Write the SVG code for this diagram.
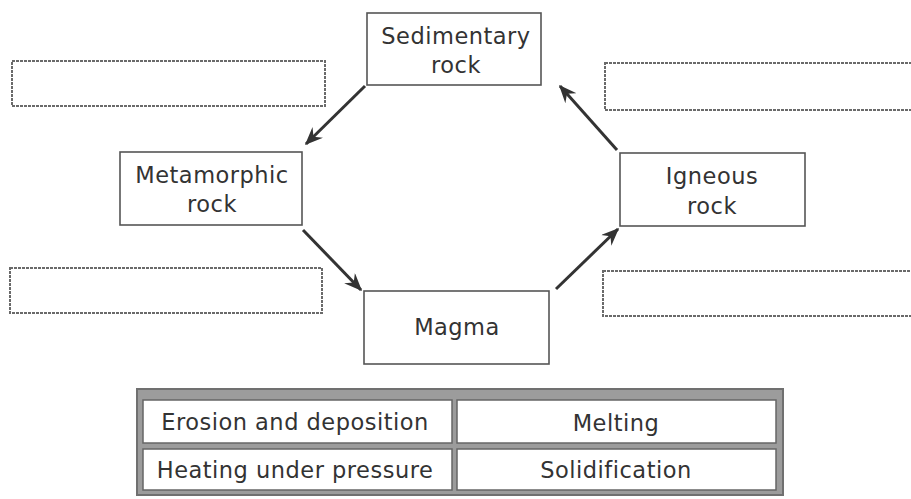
<svg xmlns="http://www.w3.org/2000/svg" width="911" height="499" viewBox="0 0 911 499">
<defs>
<style>
.node{fill:#fff;stroke:#555;stroke-width:1.6}
.blank{fill:#fff;stroke:#6a6a6a;stroke-width:2;stroke-dasharray:3 1}
.t{font-family:"DejaVu Sans",Verdana,sans-serif;font-size:22.5px;letter-spacing:0.5px;fill:#333;text-anchor:middle}
.cell{fill:#fff;stroke:#666;stroke-width:1.5}
.conn{stroke:#333;stroke-width:3;fill:none;marker-end:url(#ah)}
</style>
<marker id="ah" viewBox="0 0 12 10" refX="11" refY="5" markerWidth="6" markerHeight="5" orient="auto" markerUnits="strokeWidth">
<path d="M0,0 L12,5 L0,10 L4,5 Z" fill="#333"/>
</marker>
</defs>
<rect width="911" height="499" fill="#fff"/>
<g id="blank-top-left"><rect class="blank" x="12" y="61" width="313" height="45"/></g>
<g id="blank-top-right"><rect class="blank" x="605" y="63" width="310" height="47"/></g>
<g id="blank-bottom-left"><rect class="blank" x="10" y="268" width="312" height="45"/></g>
<g id="blank-bottom-right"><rect class="blank" x="603" y="271" width="312" height="45"/></g>
<g id="sedimentary"><rect class="node" x="367" y="13" width="174" height="72"/><text class="t" x="456" y="44">Sedimentary</text><text class="t" x="456" y="73">rock</text></g>
<g id="metamorphic"><rect class="node" x="120" y="152" width="182" height="73"/><text class="t" x="212" y="183">Metamorphic</text><text class="t" x="212" y="212">rock</text></g>
<g id="igneous"><rect class="node" x="620" y="153" width="185" height="73"/><text class="t" x="712" y="184">Igneous</text><text class="t" x="712" y="214">rock</text></g>
<g id="magma"><rect class="node" x="364" y="291" width="185" height="73"/><text class="t" x="457" y="335">Magma</text></g>
<g id="connectors">
<line class="conn" x1="365" y1="86" x2="306" y2="144"/>
<line class="conn" x1="303" y1="230" x2="361" y2="290"/>
<line class="conn" x1="556" y1="289" x2="618" y2="229"/>
<line class="conn" x1="617" y1="150" x2="560" y2="86"/>
</g>
<g id="word-bank">
<rect x="137" y="389" width="646" height="106" fill="#9c9c9c" stroke="#707070" stroke-width="2"/>
<rect class="cell" x="143" y="400" width="309" height="43"/>
<rect class="cell" x="457" y="400" width="319" height="43"/>
<rect class="cell" x="143" y="449" width="309" height="41"/>
<rect class="cell" x="457" y="449" width="319" height="41"/>
<text class="t" x="295" y="430">Erosion and deposition</text>
<text class="t" x="616" y="431">Melting</text>
<text class="t" x="295" y="478">Heating under pressure</text>
<text class="t" x="616" y="478">Solidification</text>
</g>
</svg>
